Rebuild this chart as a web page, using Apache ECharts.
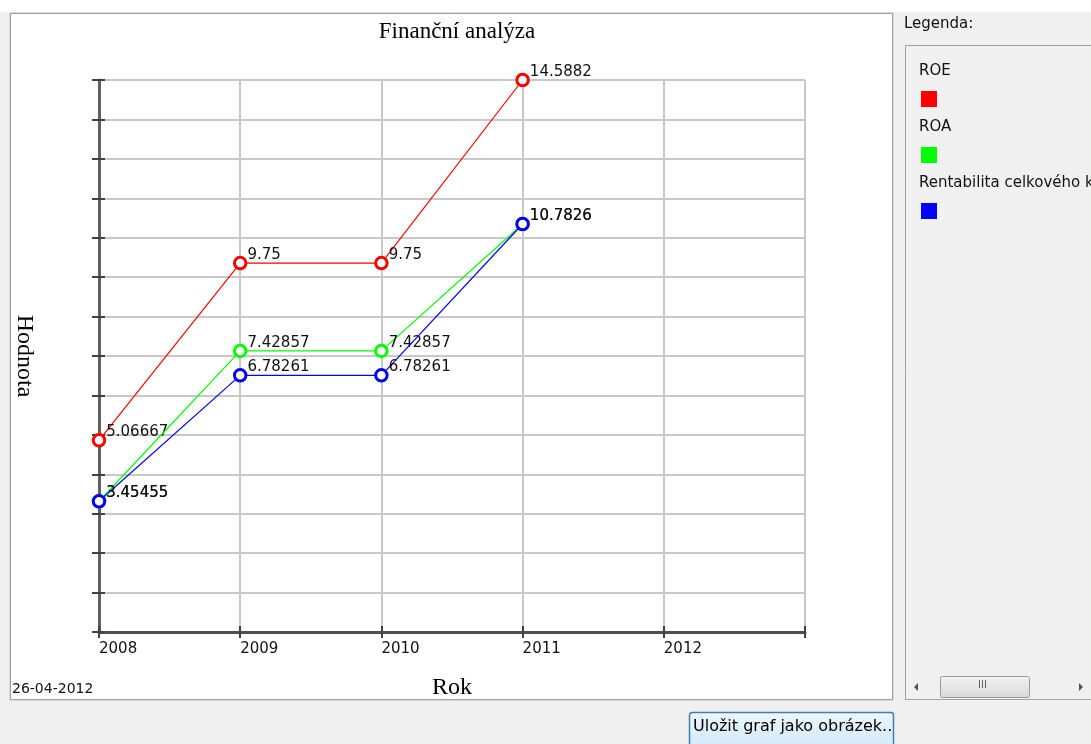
<!DOCTYPE html>
<html>
<head>
<meta charset="utf-8">
<script src="https://cdn.jsdelivr.net/npm/echarts@6/dist/echarts.min.js"></script>
<style>
  html, body { margin: 0; padding: 0; background: #f0f0f0; }
  #main { width: 1091px; height: 744px; }
</style>
</head>
<body>
<div id="main"></div>
<script>
// data
const years = [2008, 2009, 2010, 2011];
const xTicks = [2008, 2009, 2010, 2011, 2012];
const roe = [5.06667, 9.75, 9.75, 14.5882];
const roa = [3.45455, 7.42857, 7.42857, 10.7826];
const rck = [3.45455, 6.78261, 6.78261, 10.7826];
const seriesNames = ["ROE", "ROA", "Rentabilita celkového kapitálu"];
const seriesColors = ["#ff0000", "#00ff00", "#0000ff"];
const seriesValues = [roe, roa, rck];

const yMax = 14.5882;
const ySteps = 14;

const uiFont = "DejaVu Sans";
const serif = "Liberation Serif";

const chart = echarts.init(document.getElementById("main"));

const lineSeries = seriesValues.map((vals, i) => ({
  name: seriesNames[i],
  type: "line",
  xAxisIndex: 0,
  yAxisIndex: 0,
  data: years.map((y, j) => [y, vals[j]]),
  symbol: "circle",
  symbolSize: 11.5,
  showAllSymbol: true,
  color: seriesColors[i],
  lineStyle: { color: seriesColors[i], width: 1.2 },
  itemStyle: { color: "#ffffff", borderColor: seriesColors[i], borderWidth: 3 },
  label: {
    show: true,
    position: "right",
    distance: 0,
    offset: [0, -8],
    color: "#111",
    fontFamily: uiFont,
    fontSize: 15,
    formatter: (p) => String(p.value[1])
  },
  emphasis: { disabled: true },
  animation: false,
  z: 3 + i
}));

// legend panel entries (text above coloured square)
const legendGraphics = [];
seriesNames.forEach((n, i) => {
  legendGraphics.push({
    type: "text",
    left: 919,
    top: 64 + i * 56,
    style: { text: n, font: "15px '" + uiFont + "'", fill: "#111" }
  });
  legendGraphics.push({
    type: "rect",
    shape: { x: 921, y: 91 + i * 56, width: 16, height: 16 },
    style: { fill: seriesColors[i] }
  });
});

const option = {
  backgroundColor: "#f0f0f0",
  animation: false,
  title: {
    text: "Finanční analýza",
    left: 452,
    top: 15,
    textAlign: "center",
    textStyle: { fontFamily: serif, fontSize: 23, fontWeight: "normal", color: "#000" }
  },
  grid: { left: 99, right: 286, top: 80, bottom: 112, containLabel: false, outerBoundsMode: "none" },
  xAxis: [
    {
      type: "value",
      min: 2008,
      max: 2013,
      interval: 1,
      name: "Rok",
      nameLocation: "middle",
      nameGap: 44,
      nameTextStyle: { fontFamily: serif, fontSize: 24, color: "#000" },
      axisLine: { show: true, lineStyle: { color: "#505050", width: 3 } },
      axisTick: { show: true, length: 6, lineStyle: { color: "#404040", width: 2 } },
      axisLabel: {
        show: true,
        align: "left",
        margin: 10,
        color: "#111",
        fontFamily: uiFont,
        fontSize: 15,
        formatter: (v) => (xTicks.indexOf(v) >= 0 ? String(v) : "")
      },
      splitLine: { show: true, lineStyle: { color: "#c8c8c8", width: 2 } }
    },
    {
      type: "value",
      min: 2008,
      max: 2013,
      interval: 1,
      position: "bottom",
      axisLine: { show: false },
      axisTick: { show: true, inside: true, length: 6, lineStyle: { color: "#404040", width: 2 } },
      axisLabel: { show: false },
      splitLine: { show: false }
    }
  ],
  yAxis: [
    {
      type: "value",
      min: 0,
      max: yMax,
      interval: yMax / ySteps,
      name: "Hodnota",
      nameLocation: "middle",
      nameRotate: -90,
      nameGap: 63,
      nameTextStyle: { fontFamily: serif, fontSize: 24, color: "#000" },
      axisLine: { show: true, lineStyle: { color: "#606060", width: 3 } },
      axisTick: { show: true, length: 7, lineStyle: { color: "#404040", width: 2 } },
      axisLabel: { show: false },
      splitLine: { show: true, lineStyle: { color: "#c8c8c8", width: 2 } }
    },
    {
      type: "value",
      min: 0,
      max: yMax,
      interval: yMax / ySteps,
      position: "left",
      axisLine: { show: false },
      axisTick: { show: true, inside: true, length: 6, lineStyle: { color: "#404040", width: 2 } },
      axisLabel: { show: false },
      splitLine: { show: false }
    }
  ],
  series: lineSeries,
  graphic: [
    // window pieces
    { type: "rect", z: -100, shape: { x: 0, y: 0, width: 1091, height: 12 }, style: { fill: "#ffffff" } },
    { type: "rect", z: -99, shape: { x: 9.5, y: 12.5, width: 884, height: 688 }, style: { fill: "#ffffff", stroke: "#dadada", lineWidth: 1 } },
    { type: "rect", z: -98, shape: { x: 10.5, y: 13.5, width: 882, height: 686 }, style: { fill: "#ffffff", stroke: "#a0a0a0", lineWidth: 1 } },
    {
      type: "text", left: 12, top: 682,
      style: { text: "26-04-2012", font: "14px '" + uiFont + "'", fill: "#111" }
    },
    // legend panel
    {
      type: "text", left: 904, top: 17,
      style: { text: "Legenda:", font: "15px '" + uiFont + "'", fill: "#111" }
    },
    { type: "rect", z: -99, shape: { x: 905.5, y: 45.5, width: 200, height: 654 }, style: { fill: "#f0f0f0", stroke: "#a0a0a0", lineWidth: 1 } },
    // scrollbar
    {
      type: "polygon",
      shape: { points: [[918, 683], [918, 691], [914, 687]] },
      style: { fill: "#505050" }
    },
    {
      type: "rect",
      shape: { x: 940.5, y: 676.5, width: 89, height: 21, r: 2 },
      style: {
        fill: new echarts.graphic.LinearGradient(0, 0, 0, 1, [
          { offset: 0, color: "#f4f4f4" },
          { offset: 1, color: "#d8d8d8" }
        ]),
        stroke: "#9a9a9a",
        lineWidth: 1
      }
    },
    {
      type: "text", left: 978, top: 680,
      style: { text: "III", font: "10px '" + uiFont + "'", fill: "#606060" }
    },
    {
      type: "polygon",
      shape: { points: [[1079, 683], [1079, 691], [1083, 687]] },
      style: { fill: "#505050" }
    },
    // save button
    {
      type: "rect",
      shape: { x: 689.5, y: 712.5, width: 204, height: 36, r: 3 },
      style: {
        fill: new echarts.graphic.LinearGradient(0, 0, 0, 1, [
          { offset: 0, color: "#eef7fd" },
          { offset: 1, color: "#cfe8f8" }
        ]),
        stroke: "#3c7fb1",
        lineWidth: 1.5
      }
    },
    {
      type: "text", left: 693, top: 719,
      style: { text: "Uložit graf jako obrázek..", font: "16px '" + uiFont + "'", fill: "#000" }
    }
  ].concat(legendGraphics)
};

chart.setOption(option);
</script>
</body>
</html>
